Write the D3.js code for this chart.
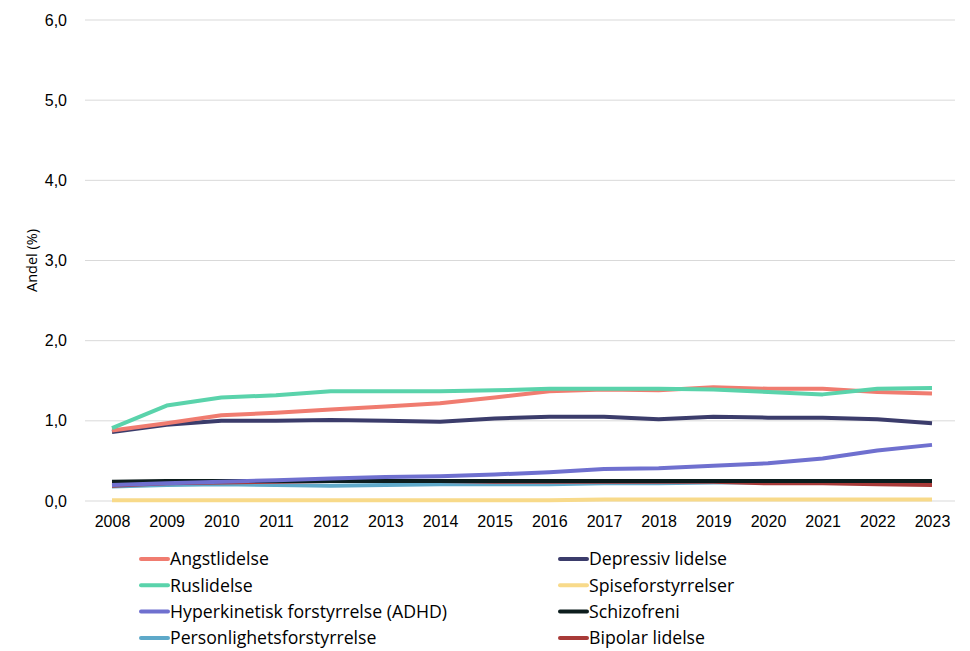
<!DOCTYPE html>
<html>
<head>
<meta charset="utf-8">
<script src="https://cdn.jsdelivr.net/npm/d3@7"></script>
<style>
  body { margin: 0; background: #fff; }
  svg { font-family: "Open Sans", Lato, sans-serif; }
</style>
</head>
<body>
<div id="chartContainer"></div>
<script>
// Data
const years = [2008, 2009, 2010, 2011, 2012, 2013, 2014, 2015, 2016, 2017, 2018, 2019, 2020, 2021, 2022, 2023];
const angst = [0.88, 0.97, 1.07, 1.10, 1.14, 1.18, 1.22, 1.29, 1.37, 1.39, 1.38, 1.42, 1.40, 1.40, 1.36, 1.34];
const depressiv = [0.86, 0.95, 1.00, 1.00, 1.01, 1.00, 0.99, 1.03, 1.05, 1.05, 1.02, 1.05, 1.04, 1.04, 1.02, 0.97];
const rus = [0.91, 1.19, 1.29, 1.32, 1.37, 1.37, 1.37, 1.38, 1.40, 1.40, 1.40, 1.39, 1.36, 1.33, 1.40, 1.41];
const spise = [0.01, 0.01, 0.01, 0.01, 0.01, 0.01, 0.01, 0.01, 0.01, 0.02, 0.02, 0.02, 0.02, 0.02, 0.02, 0.02];
const adhd = [0.20, 0.22, 0.24, 0.26, 0.28, 0.30, 0.31, 0.33, 0.36, 0.40, 0.41, 0.44, 0.47, 0.53, 0.63, 0.70];
const schizo = [0.24, 0.25, 0.25, 0.25, 0.25, 0.25, 0.25, 0.25, 0.25, 0.25, 0.25, 0.25, 0.25, 0.25, 0.25, 0.25];
const personlighet = [0.18, 0.20, 0.21, 0.20, 0.19, 0.20, 0.21, 0.21, 0.21, 0.22, 0.22, 0.23, 0.23, 0.23, 0.23, 0.23];
const bipolar = [0.19, 0.22, 0.23, 0.24, 0.25, 0.25, 0.25, 0.24, 0.24, 0.24, 0.24, 0.24, 0.22, 0.22, 0.21, 0.20];
const yTicks = [0, 1, 2, 3, 4, 5, 6];

// Series in legend order (row by row, two columns)
const series = [
    { name: "Angstlidelse", values: angst, color: "#f07c70" },
    { name: "Depressiv lidelse", values: depressiv, color: "#3b3c6b" },
    { name: "Ruslidelse", values: rus, color: "#5ad3ab" },
    { name: "Spiseforstyrrelser", values: spise, color: "#f8da8a" },
    { name: "Hyperkinetisk forstyrrelse (ADHD)", values: adhd, color: "#6f70cf" },
    { name: "Schizofreni", values: schizo, color: "#0c1d1d" },
    { name: "Personlighetsforstyrrelse", values: personlighet, color: "#5ea9c9" },
    { name: "Bipolar lidelse", values: bipolar, color: "#a83a38" }
];
// draw order (bottom to top)
const drawOrder = [3, 6, 7, 5, 4, 1, 0, 2];

const width = 970;
const height = 651;
const marginTop = 20;
const marginBottom = 150;
const plotLeft = 85;
const plotRight = 955;

const x = d3.scalePoint().domain(years).range([112, 932]);
const y = d3.scaleLinear().domain([0, 6]).range([height - marginBottom, marginTop]);

const svg = d3.create("svg")
    .attr("width", width)
    .attr("height", height)
    .attr("viewBox", [0, 0, width, height]);

// grid lines
svg.append("g")
    .selectAll("line")
    .data(yTicks)
    .join("line")
    .attr("x1", plotLeft)
    .attr("x2", plotRight)
    .attr("y1", d => y(d))
    .attr("y2", d => y(d))
    .attr("stroke", "#d9d9d9")
    .attr("stroke-width", 1);

// y-axis labels
const yAxis = svg.append("g")
    .attr("transform", `translate(${plotLeft},0)`)
    .call(d3.axisLeft(y).tickValues(yTicks).tickSize(0).tickPadding(18)
        .tickFormat(d => d3.format(".1f")(d).replace(".", ",")));
yAxis.select(".domain").remove();
yAxis.selectAll("text").attr("font-size", 16).attr("fill", "#000").attr("font-family", null);

// x-axis labels
const xAxis = svg.append("g")
    .attr("transform", `translate(0,${y(0)})`)
    .call(d3.axisBottom(x).tickSize(0).tickPadding(15));
xAxis.select(".domain").remove();
xAxis.selectAll("text").attr("font-size", 16).attr("fill", "#000").attr("font-family", null);

// y-axis title
svg.append("text")
    .attr("transform", `translate(37,${(y(0) + y(6)) / 2}) rotate(-90)`)
    .attr("text-anchor", "middle")
    .attr("font-size", 14.5)
    .text("Andel (%)");

// lines
const line = d3.line()
    .x((d, i) => x(years[i]))
    .y(d => y(d));

svg.append("g")
    .selectAll("path")
    .data(drawOrder.map(i => series[i]))
    .join("path")
    .attr("fill", "none")
    .attr("stroke", d => d.color)
    .attr("stroke-width", 4)
    .attr("stroke-linejoin", "round")
    .attr("d", d => line(d.values));

// legend
const legend = svg.append("g")
    .selectAll("g")
    .data(series)
    .join("g")
    .attr("transform", (d, i) => `translate(${i % 2 === 0 ? 141 : 560},${559 + Math.floor(i / 2) * 26.3})`);

legend.append("line")
    .attr("x1", 0)
    .attr("x2", 27)
    .attr("stroke", d => d.color)
    .attr("stroke-width", 4)
    .attr("stroke-linecap", "round");

legend.append("text")
    .attr("x", 29)
    .attr("dy", "0.35em")
    .attr("font-size", 17.7)
    .text(d => d.name);

document.getElementById("chartContainer").appendChild(svg.node());
</script>
</body>
</html>
